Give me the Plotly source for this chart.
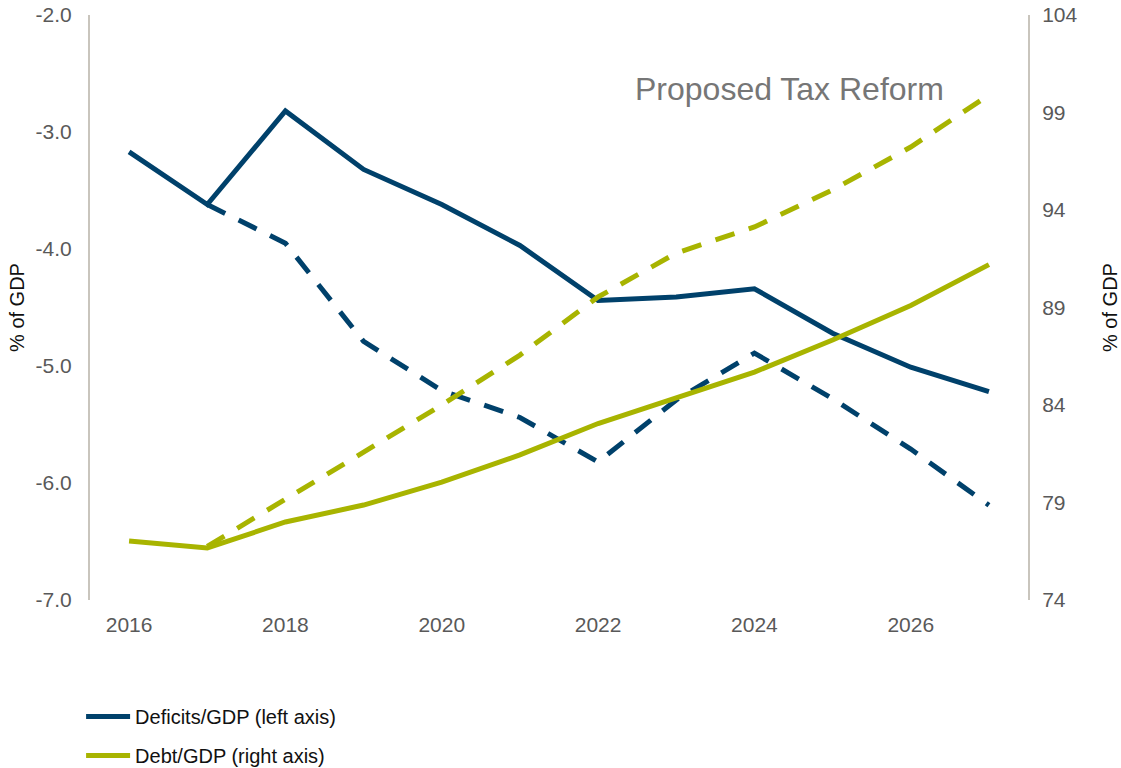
import plotly.graph_objects as go

years = list(range(2016, 2028))
years_proj = list(range(2017, 2028))

deficit_current = [-3.17, -3.62, -2.82, -3.32, -3.62, -3.97, -4.44, -4.41, -4.34, -4.72, -5.01, -5.22]
deficit_reform = [-3.62, -3.95, -4.79, -5.21, -5.44, -5.82, -5.29, -4.89, -5.28, -5.71, -6.19]

debt_current = [77.03, 76.67, 78.0, 78.87, 80.05, 81.44, 83.05, 84.36, 85.69, 87.33, 89.1, 91.2]
debt_reform = [76.75, 79.18, 81.59, 84.0, 86.56, 89.54, 91.79, 93.13, 95.03, 97.23, 99.9]

left_ticks = [-7.0, -6.0, -5.0, -4.0, -3.0, -2.0]
right_ticks = [74, 79, 84, 89, 94, 99, 104]
x_ticks = [2016, 2018, 2020, 2022, 2024, 2026]

series_names = ["Deficits/GDP (left axis)", "Debt/GDP (right axis)"]

NAVY = "#00416B"
OLIVE = "#A8B400"
TICK = "#595959"
AXIS = "#C9C5BD"
FONT = "Liberation Sans, Arial, sans-serif"

fig = go.Figure()
fig.add_trace(go.Scatter(x=years, y=deficit_current, mode="lines", name=series_names[0],
                         line=dict(color=NAVY, width=5), legendgroup="a", yaxis="y"))
fig.add_trace(go.Scatter(x=years, y=debt_current, mode="lines", name=series_names[1],
                         line=dict(color=OLIVE, width=5), legendgroup="b", yaxis="y2"))
fig.add_trace(go.Scatter(x=years_proj, y=deficit_reform, mode="lines", showlegend=False,
                         name="Deficits/GDP reform", legendgroup="c",
                         line=dict(color=NAVY, width=5, dash="20px,15px"), yaxis="y"))
fig.add_trace(go.Scatter(x=years_proj, y=debt_reform, mode="lines", showlegend=False,
                         name="Debt/GDP reform", legendgroup="d",
                         line=dict(color=OLIVE, width=5, dash="20px,15px"), yaxis="y2"))

fig.update_layout(
    width=1121, height=768,
    margin=dict(l=90, r=93, t=15, b=168, autoexpand=False),
    paper_bgcolor="white", plot_bgcolor="white",
    font=dict(family=FONT, color=TICK, size=21),
    showlegend=True,
    legend=dict(x=-0.0095, y=-0.166, xanchor="left", yanchor="top", orientation="v",
                traceorder="grouped", tracegroupgap=10, itemwidth=44,
                font=dict(family=FONT, size=20, color="#111111"), bgcolor="rgba(0,0,0,0)"),
    xaxis=dict(range=[2015.5, 2027.5], tickvals=x_ticks, ticktext=[str(v) for v in x_ticks],
               showgrid=False, zeroline=False, showline=False, ticks="", ticklabelstandoff=10,
               tickfont=dict(size=21, color=TICK)),
    yaxis=dict(range=[-7.0, -2.0], tickvals=left_ticks, ticktext=[f"{v:.1f}" for v in left_ticks],
               showgrid=False, zeroline=False, showline=True, linecolor=AXIS, linewidth=2,
               ticks="", ticklabelstandoff=12, tickfont=dict(size=21, color=TICK),
               title=dict(text="% of GDP", font=dict(size=20, color="#111111"), standoff=6)),
    yaxis2=dict(range=[74, 104], tickvals=right_ticks, ticktext=[str(v) for v in right_ticks],
                overlaying="y", side="right", showgrid=False, zeroline=False, showline=True,
                linecolor=AXIS, linewidth=2, ticks="", ticklabelstandoff=8,
                tickfont=dict(size=21, color=TICK),
                title=dict(text="% of GDP", font=dict(size=20, color="#111111"), standoff=32)),
    annotations=[dict(text="Proposed Tax Reform", x=0.746, y=0.8735, xref="paper", yref="paper",
                      xanchor="center", yanchor="middle",
                      showarrow=False, font=dict(family=FONT, size=32, color="#767676"))],
)

fig.write_html("out.html", config={"displayModeBar": False},
               post_script="document.body.style.margin='0';document.body.style.padding='0';")
